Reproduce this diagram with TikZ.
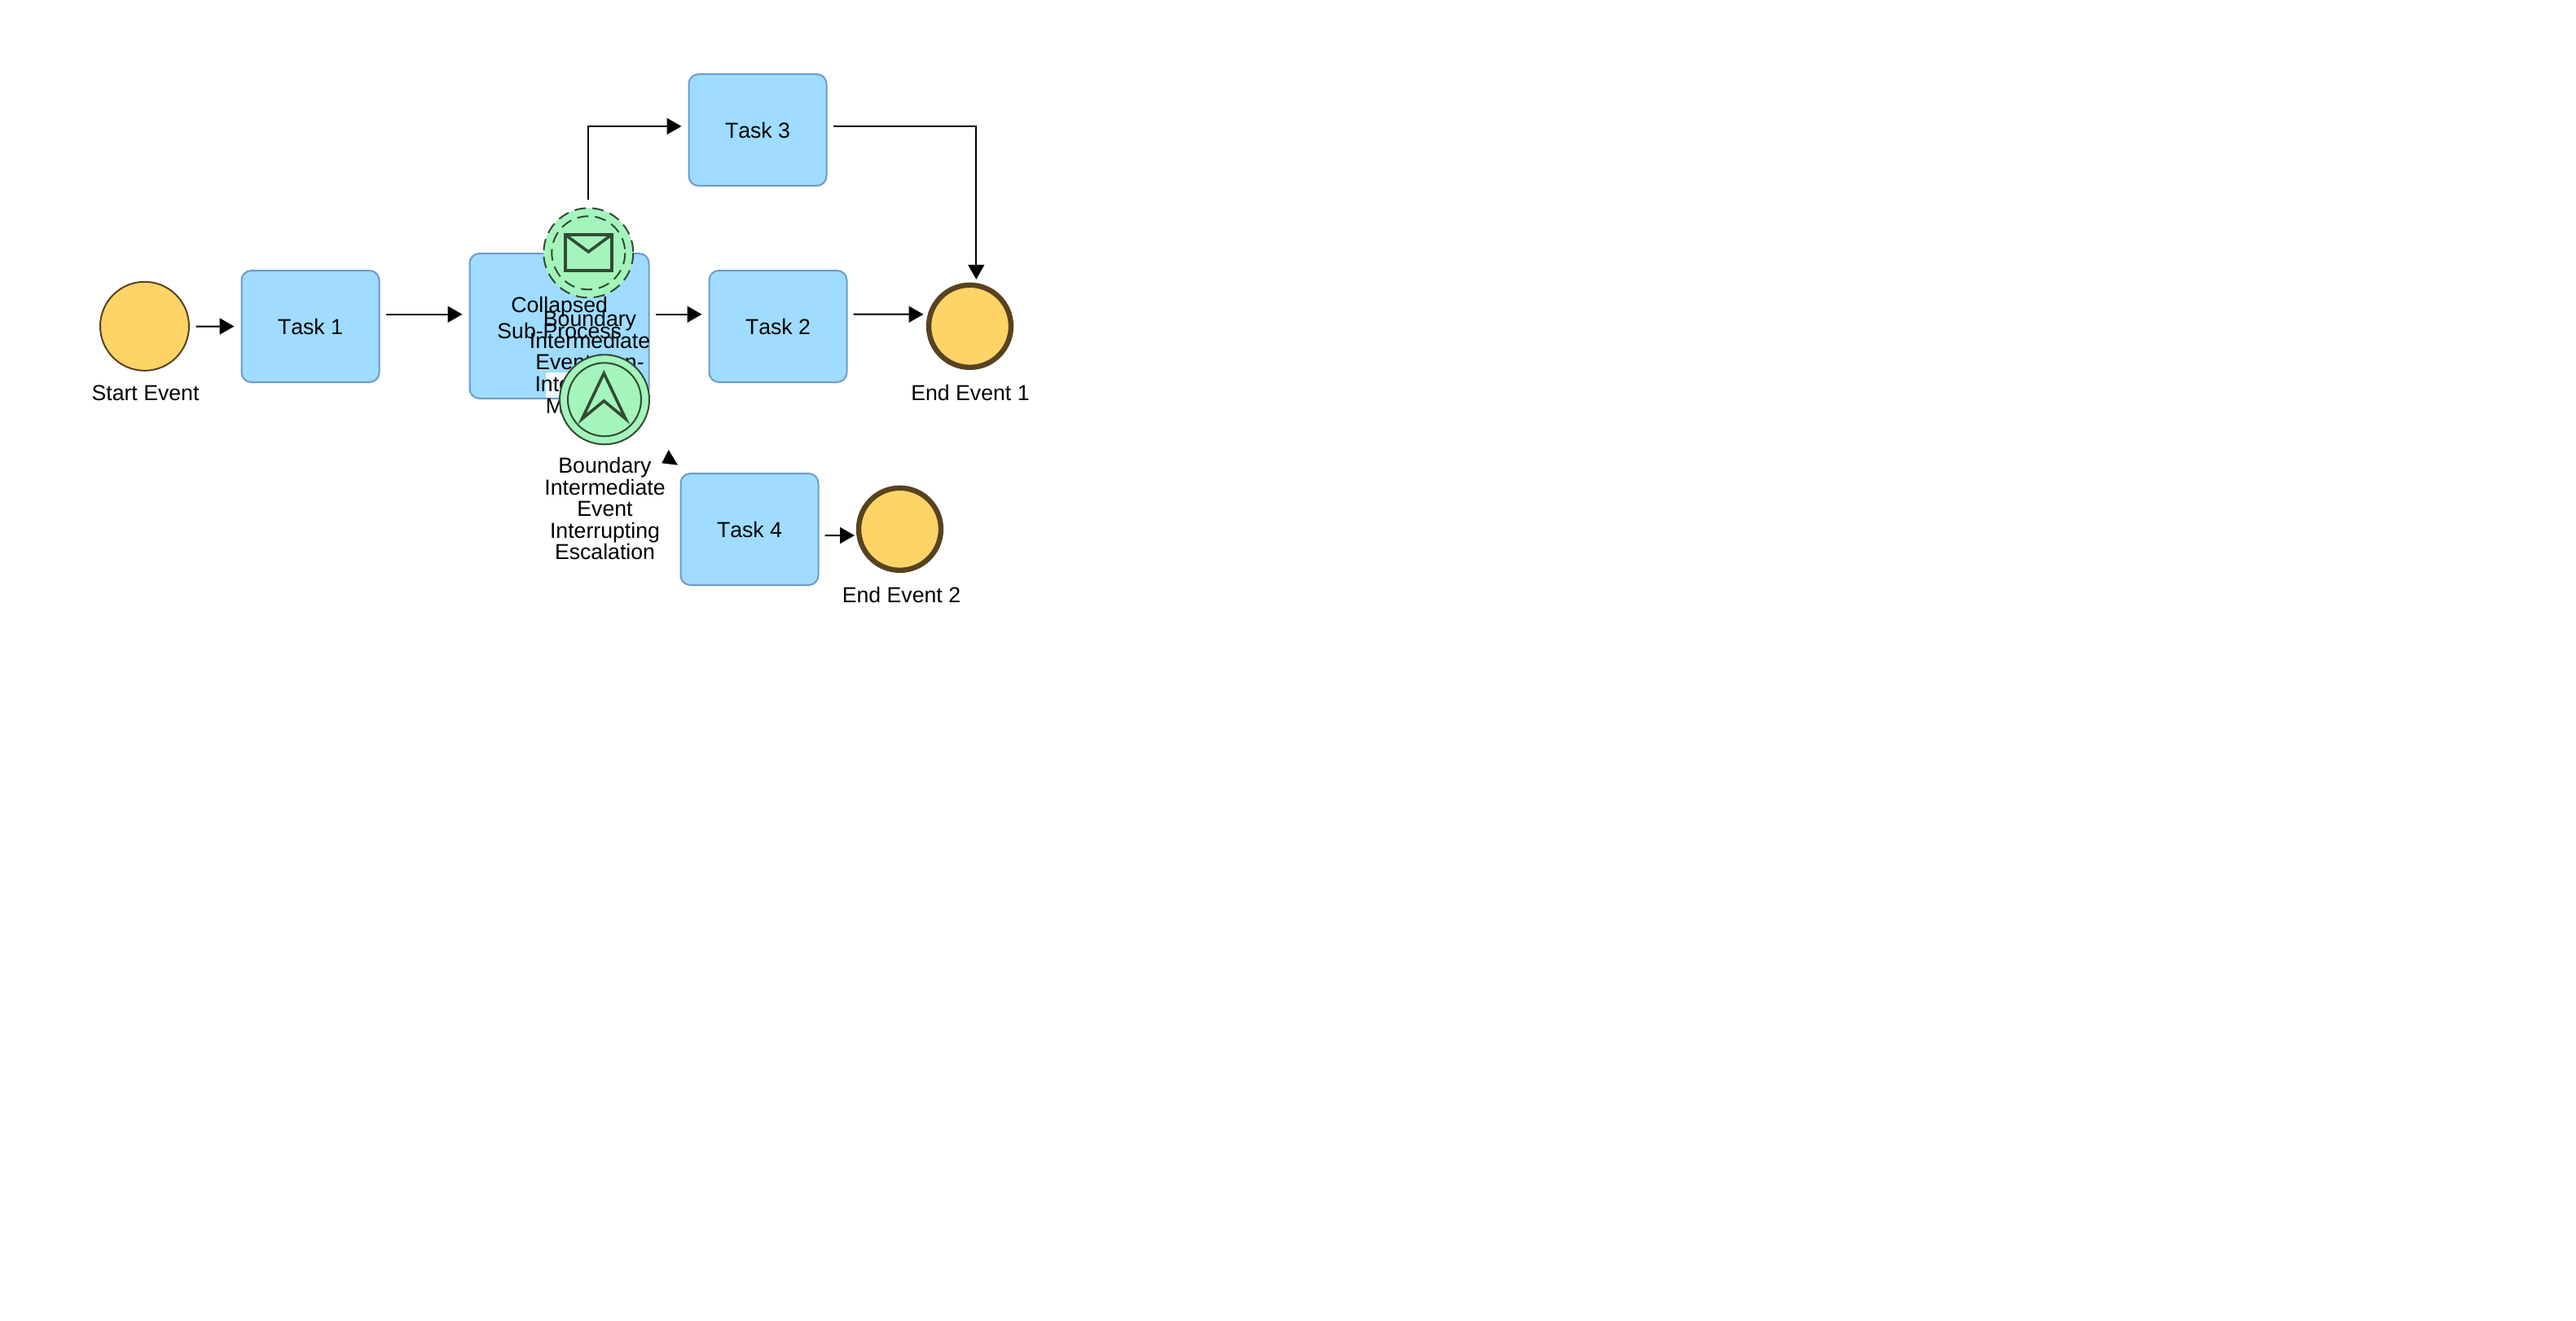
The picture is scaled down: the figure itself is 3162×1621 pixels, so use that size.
\documentclass[tikz,border=0pt]{standalone}
\usepackage{fontspec}
\setmainfont{Liberation Sans}[Kerning=Off]
\usetikzlibrary{arrows.meta,calc}
\definecolor{taskfill}{HTML}{9FDCFF}
\definecolor{taskline}{HTML}{6C9BCB}
\definecolor{evfill}{HTML}{FFD466}
\definecolor{evline}{HTML}{574320}
\definecolor{bfill}{HTML}{A3F5BC}
\definecolor{bline}{HTML}{344A34}
\tikzset{
 x=0.5pt,y=-0.5pt,
 taskbox/.style={draw=taskline,fill=taskfill,line width=1pt,rounded corners=6pt,minimum width=84.5pt,minimum height=68.5pt,inner sep=0pt,outer sep=0pt,font=\fontsize{13.33}{13.2}\selectfont,align=center},
 startev/.style={circle,draw=evline,fill=evfill,line width=1pt,minimum size=54.5pt,inner sep=0pt,outer sep=0pt},
 endev/.style={circle,draw=evline,fill=evfill,line width=3.2pt,minimum size=50.5pt,inner sep=0pt,outer sep=0pt},
 bev/.style={circle,fill=bfill,minimum size=55pt,inner sep=0pt,outer sep=0pt},
 ring/.style={draw=bline,line width=1pt},
 glyph/.style={draw=bline,line width=1.8pt,miter limit=10},
 lab/.style={inner sep=0pt,outer sep=0pt,font=\fontsize{13.33}{13.2}\selectfont,align=center},
 flow/.style={draw=black,line width=1pt,-{Triangle[length=9pt,width=10pt]}},
}
\begin{document}
\begin{tikzpicture}
\useasboundingbox (0,0) rectangle (3162,1621);
\node[startev] (start) at (177.5,400.3) {};
\node[taskbox] (t1) at (381,400.5) {Task 1};
\node[taskbox,minimum width=110pt,minimum height=89pt] (sub) at (686.5,400) {};
\node[taskbox] (t2) at (955,400.5) {Task 2};
\node[taskbox] (t3) at (930,159.5) {Task 3};
\node[taskbox] (t4) at (920,649.5) {Task 4};
\node[endev] (e1) at (1190.5,400.3) {};
\node[endev] (e2) at (1104.5,649.3) {};
\node[lab,anchor=base] (lstart) at (178.5,491) {Start Event};
\node[lab,anchor=base] (le1) at (1191,491) {End Event 1};
\node[lab,anchor=base] (le2) at (1106.5,739) {End Event 2};
\node[lab,anchor=base] (lsub1) at (686.7,383) {Collapsed};
\node[lab,anchor=base] (lsub2) at (686.7,415) {Sub-Process};
% message boundary event
\node[bev] (msg) at (722.3,310.3) {};
\draw[ring,dash pattern=on 7pt off 4pt] (msg) circle[radius=55];
\draw[ring,dash pattern=on 7pt off 4pt] (msg) circle[radius=45];
\node[glyph,draw,minimum width=28.5pt,minimum height=22pt,inner sep=0pt,outer sep=0pt] (env) at (722.3,310) {};
\draw[glyph] (env.north west) -- (722.3,309) -- (env.north east);
\fill[white,opacity=0.88] (670,457.3) rectangle (780,488);
\node[lab,anchor=base] (lm1) at (724,400) {Boundary};
\node[lab,anchor=base] (lm2) at (724,427) {Intermediate};
\node[lab,anchor=base] (lm3) at (724,453.5) {Event Non-};
\node[lab,anchor=base] (lm4) at (724,480.5) {Interrupting};
\node[lab,anchor=base] (lm5) at (724,507) {Message};
% escalation boundary event
\node[bev] (esc) at (742,490.3) {};
\draw[ring] (esc) circle[radius=55];
\draw[ring] (esc) circle[radius=45];
\draw[glyph] (741.3,458) -- (714.5,514) -- (741.3,492) -- (768,514) -- cycle;
\node[lab,anchor=base] (lb1) at (742.5,580.5) {Boundary};
\node[lab,anchor=base] (lb2) at (742.5,607) {Intermediate};
\node[lab,anchor=base] (lb3) at (742.5,633.5) {Event};
\node[lab,anchor=base] (lb4) at (742.5,660) {Interrupting};
\node[lab,anchor=base] (lb5) at (742.5,686.3) {Escalation};
% connectors
\draw[flow] ([shift={(8.5,0.2)}]start.east) -- ([shift={(-9,0)}]t1.west);
\draw[flow] ([shift={(8,-14.8)}]t1.east) -- ([shift={(-9,-14.3)}]sub.west);
\draw[flow] ([shift={(8,-14.3)}]sub.east) -- ([shift={(-9,-14.8)}]t2.west);
\draw[flow] ([shift={(8,-14.8)}]t2.east) -- ([shift={(-6.5,-14.6)}]e1.west);
\coordinate (ma) at ([shift={(0,-10)}]msg.north);
\coordinate (mb) at ([shift={(-9,-4.5)}]t3.west);
\draw[flow] (ma) |- (mb);
\draw[flow] ([shift={(8,-4.5)}]t3.east) -| ([shift={(7.8,-7)}]e1.north);
\draw[flow] ([shift={(8,7.5)}]t4.east) -- ([shift={(-5,7.7)}]e2.west);
\coordinate (tipa) at (820.7,552);
\fill[black] (tipa) -- (812.3,568.3) -- (832,570.7) -- cycle;
\end{tikzpicture}
\end{document}
